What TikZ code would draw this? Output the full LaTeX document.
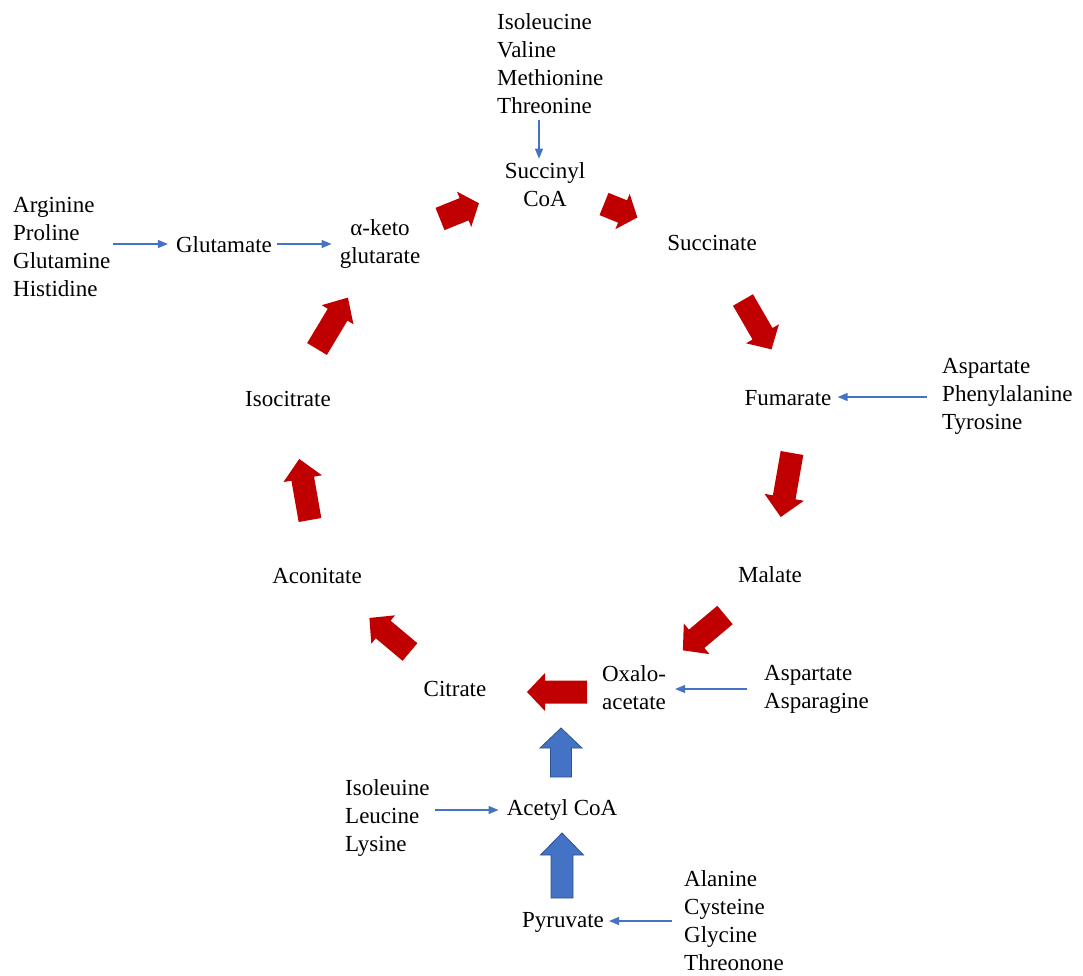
\documentclass[tikz,border=0pt]{standalone}
\usepackage{fontspec}
\setmainfont{Liberation Serif}
\usetikzlibrary{arrows.meta}
\definecolor{cycred}{HTML}{C00000}
\definecolor{arrblue}{HTML}{4472C4}
\definecolor{edgeblue}{HTML}{2F528F}
\tikzset{
  lbl/.style={inner sep=0pt, font=\fontsize{23}{28}\selectfont, align=center},
  lst/.style={lbl, align=left, anchor=west},
  thinarr/.style={draw=arrblue, line width=1.3pt, -{Triangle[length=10pt,width=8pt]}},
  redblock/.style={fill=cycred},
  blueblock/.style={fill=arrblue, draw=edgeblue, line width=0.8pt},
}
% x, y (tail centre), angle, length, head width, shaft width, head length, style
\newcommand{\blockarr}[8]{%
  \path[#8, shift={(#1,#2)}, rotate=#3]
    (0,{#6/2}) -- ({#4-#7},{#6/2}) -- ({#4-#7},{#5/2}) -- (#4,0)
    -- ({#4-#7},{-#5/2}) -- ({#4-#7},{-#6/2}) -- (0,{-#6/2}) -- cycle;}
\begin{document}
\begin{tikzpicture}[x=1pt, y=-1pt]
\useasboundingbox (0,0) rectangle (1083,976);
% texts
\node[lst] (ivmt) at (497,64) {Isoleucine\\Valine\\Methionine\\Threonine};
\node[lbl] (succoa) at (545,185) {Succinyl\\CoA};
\node[lst] (arg) at (13,246.5) {Arginine\\Proline\\Glutamine\\Histidine};
\node[lbl] (glu) at (224,245) {Glutamate};
\node[lbl] (akg) at (380,244) {α-keto\\glutarate};
\node[lbl] (succ) at (712,243) {Succinate};
\node[lbl] (fum) at (788,398) {Fumarate};
\node[lst] (apt) at (942,396) {Aspartate\\Phenylalanine\\Tyrosine};
\node[lbl] (mal) at (770,575) {Malate};
\node[lbl] (acon) at (317,576) {Aconitate};
\node[lbl] (iso) at (288,399) {Isocitrate};
\node[lbl] (cit) at (455,689) {Citrate};
\node[lbl, align=left] (oaa) at (634,688) {Oxalo-\\acetate};
\node[lst] (aa) at (764,689) {Aspartate\\Asparagine};
\node[lbl] (acoa) at (562,810) {Acetyl CoA};
\node[lst] (ill) at (345,818) {Isoleuine\\Leucine\\Lysine};
\node[lbl] (pyr) at (563,922) {Pyruvate};
\node[lst] (acgt) at (684,920.5) {Alanine\\Cysteine\\Glycine\\Threonone};
% thin feeder arrows
\draw[thinarr] ([yshift=-6pt]ivmt.south -| 539,0) -- ([yshift=4pt]succoa.north -| 539,0);
\draw[thinarr] ([xshift=3pt]arg.east |- 0,244) -- ([xshift=-8pt]glu.west |- 0,244);
\draw[thinarr] ([xshift=5pt]glu.east |- 0,244) -- ([xshift=-8pt]akg.west |- 0,244);
\draw[thinarr] ([xshift=-15pt]apt.west |- 0,397) -- ([xshift=6pt]fum.east |- 0,397);
\draw[thinarr] ([xshift=-17pt]aa.west |- 0,689) -- ([xshift=9pt]oaa.east |- 0,689);
\draw[thinarr] ([xshift=5pt]ill.east |- 0,810) -- ([xshift=-8pt]acoa.west |- 0,810);
\draw[thinarr] ([xshift=-12pt]acgt.west |- 0,921) -- ([xshift=5pt]pyr.east |- 0,921);
% red cycle block arrows
\blockarr{440}{219}{22}{42}{38}{24}{16}{redblock}
\blockarr{604}{204}{-22}{36}{38}{24}{16}{redblock}
\blockarr{743}{300}{-60}{57}{38}{23}{18}{redblock}
\blockarr{792}{453}{-100}{65}{40}{23}{20}{redblock}
\blockarr{725}{615}{220}{55}{40}{24}{18}{redblock}
\blockarr{587}{692}{180}{60}{38}{23}{18}{redblock}
\blockarr{410}{652}{140}{53}{37}{23}{18}{redblock}
\blockarr{310}{520}{100}{62}{39}{23}{20}{redblock}
\blockarr{317}{349}{59}{60}{37}{23}{20}{redblock}
% blue block arrows
\blockarr{561}{777}{90}{49}{42}{21}{20}{blueblock}
\blockarr{562}{898}{90}{65}{43}{22}{22}{blueblock}
\end{tikzpicture}
\end{document}
